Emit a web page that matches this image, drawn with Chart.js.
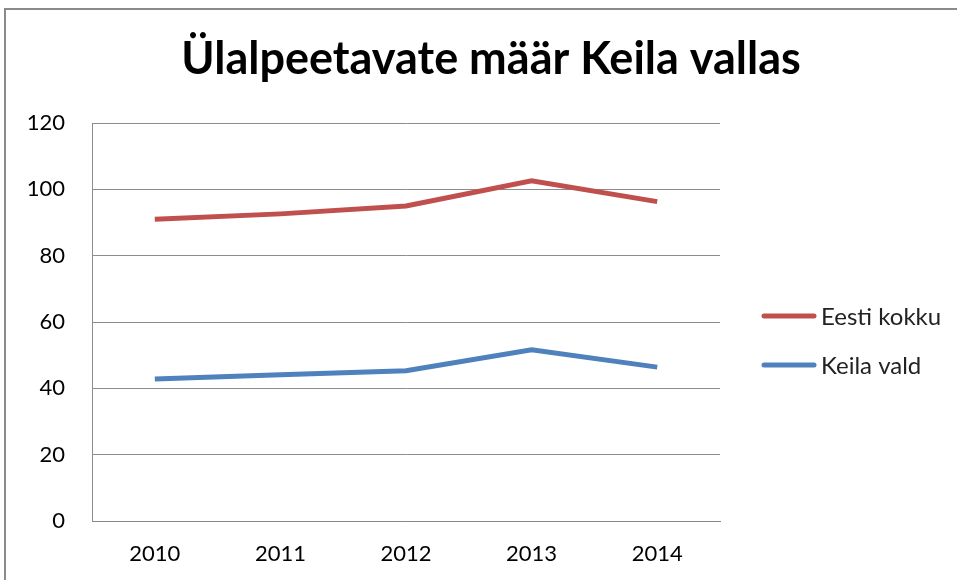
<!DOCTYPE html>
<html lang="et">
<head>
<meta charset="UTF-8">
<title>Ülalpeetavate määr Keila vallas</title>
<script src="https://cdn.jsdelivr.net/npm/chart.js"></script>
<style>
    body {
        margin: 0;
        padding: 0;
        background: #fff;
        overflow: hidden;
    }

    /* outer frame, only left and top edges are visible */
    .frame {
        position: absolute;
        left: 4px;
        top: 8px;
        width: 1000px;
        height: 1000px;
        border: 2px solid #8a8a8a;
    }

    .chart-box {
        position: absolute;
        left: 0;
        top: 0;
        width: 957px;
        height: 580px;
    }
</style>
</head>
<body>
<div class="frame"></div>
<div class="chart-box">
    <canvas id="chart" width="957" height="580"></canvas>
</div>

<script>
    // Data
    const years = ['2010', '2011', '2012', '2013', '2014'];
    const eestiKokku = [91.0, 92.6, 95.0, 102.6, 96.3];
    const keilaVald = [42.8, 44.1, 45.3, 51.6, 46.4];
    const seriesNames = ['Eesti kokku', 'Keila vald'];
    const seriesColors = ['#c0504d', '#4f81bd'];

    const FONT = 'Lato, "Open Sans", sans-serif';

    // legend on the right, drawn from the datasets
    const sideLegend = {
        id: 'sideLegend',
        afterDraw(chart) {
            const c = chart.ctx;
            c.save();
            c.font = '24px ' + FONT;
            c.textBaseline = 'middle';
            chart.data.datasets.forEach((ds, i) => {
                const y = 316 + i * 49;
                c.strokeStyle = ds.borderColor;
                c.lineWidth = 5;
                c.lineCap = 'round';
                c.beginPath();
                c.moveTo(764, y);
                c.lineTo(814, y);
                c.stroke();
                c.fillStyle = '#222';
                c.fillText(ds.label, 821, y + 1);
            });
            c.restore();
        }
    };

    new Chart(document.getElementById('chart'), {
        type: 'line',
        data: {
            labels: years,
            datasets: [
                {
                    label: seriesNames[0],
                    data: eestiKokku,
                    borderColor: seriesColors[0],
                    backgroundColor: seriesColors[0],
                    borderWidth: 5,
                    pointRadius: 0,
                    tension: 0
                },
                {
                    label: seriesNames[1],
                    data: keilaVald,
                    borderColor: seriesColors[1],
                    backgroundColor: seriesColors[1],
                    borderWidth: 5,
                    pointRadius: 0,
                    tension: 0
                }
            ]
        },
        options: {
            responsive: false,
            animation: false,
            layout: {
                padding: { top: 0, left: 25, right: 0, bottom: 0 }
            },
            plugins: {
                legend: { display: false },
                tooltip: { enabled: false },
                title: {
                    display: true,
                    text: 'Ülalpeetavate määr Keila vallas',
                    color: '#000',
                    font: { family: FONT, size: 45, weight: 'bold', lineHeight: 1.2 },
                    padding: { top: 32, bottom: 37 }
                }
            },
            scales: {
                x: {
                    offset: true,
                    grid: { display: false, drawTicks: false },
                    border: { color: '#888', width: 1 },
                    ticks: {
                        color: '#000',
                        font: { family: FONT, size: 22 },
                        padding: 20
                    },
                    afterFit(scale) { scale.height = 59; }
                },
                y: {
                    min: 0,
                    max: 120,
                    grid: { color: '#8c8c8c', drawTicks: false },
                    border: { color: '#8c8c8c', width: 1 },
                    ticks: {
                        stepSize: 20,
                        color: '#000',
                        font: { family: FONT, size: 22 },
                        padding: 27
                    },
                    afterFit(scale) { scale.width = 67; }
                },
                // empty right axis that keeps room for the legend
                side: {
                    position: 'right',
                    grid: { display: false, drawTicks: false },
                    border: { display: false },
                    ticks: { display: false },
                    afterFit(scale) { scale.width = 237; }
                }
            }
        },
        plugins: [sideLegend]
    });
</script>
</body>
</html>
